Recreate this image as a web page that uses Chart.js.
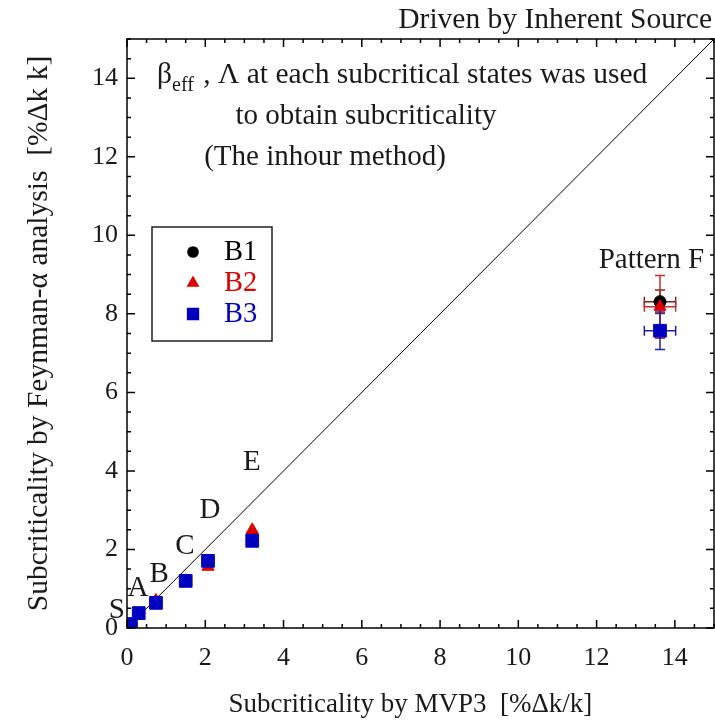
<!DOCTYPE html>
<html>
<head>
<meta charset="utf-8">
<script src="https://cdn.jsdelivr.net/npm/chart.js@4/dist/chart.umd.min.js"></script>
<style>
  body { margin: 0; background: #fff; }
</style>
</head>
<body>
<canvas id="chart" width="715" height="724"></canvas>
<script>
// subcritical states and their subcriticality [%dk/k]
const states = ["S", "A", "B", "C", "D", "E", "Pattern F"];
const mvp3 = [0.1, 0.3, 0.74, 1.5, 2.07, 3.2, 13.62];
const b1 = [0.1, 0.37, 0.66, 1.21, 1.65, 2.35, 8.31];
const b2 = [0.05, 0.36, 0.7, 1.2, 1.56, 2.5, 8.18];
const b3 = [0.1, 0.38, 0.64, 1.2, 1.71, 2.22, 7.57];
const xErr = [0, 0, 0, 0, 0, 0, 0.4];
const b1Err = [0, 0, 0, 0, 0, 0, 0.3];
const b2Err = [0, 0, 0, 0, 0, 0, 0.8];
const b3Err = [0, 0, 0, 0, 0, 0, 0.48];
// where each state name sits (data units)
const labelX = [-0.26, 0.28, 0.82, 1.48, 2.12, 3.19, 13.4];
const labelY = [0.46, 1.02, 1.36, 2.07, 2.99, 4.22, 9.36];
// y = x reference line
const lineX = [0, 15];
const lineY = [0, 15];
const tickVals = [0, 2, 4, 6, 8, 10, 12, 14];

const serif = "'Liberation Serif', 'DejaVu Serif', serif";
const ink = "#1a1a1a";

const pts = ys => mvp3.map((x, i) => ({ x, y: ys[i] }));

const series = [
  { label: "B1", ys: b1, err: b1Err, color: "#000000", bar: "#802020", style: "circle", r: 6 },
  { label: "B2", ys: b2, err: b2Err, color: "#e00000", bar: "#c03030", style: "triangle", r: 7 },
  { label: "B3", ys: b3, err: b3Err, color: "#0000c0", bar: "#2020a0", style: "rect", r: 9 }
];

const datasets = series.map((s, i) => ({
  type: "scatter",
  label: s.label,
  data: pts(s.ys),
  pointStyle: s.style,
  pointRadius: s.r,
  pointHoverRadius: s.r,
  backgroundColor: s.color,
  borderColor: s.color,
  borderWidth: 1,
  order: 3 - i
}));

datasets.push({
  type: "line",
  label: "y=x",
  data: lineX.map((x, i) => ({ x, y: lineY[i] })),
  borderColor: "#000",
  borderWidth: 1,
  pointRadius: 0,
  order: 10
});

const extras = {
  id: "extras",
  beforeDatasetsDraw(chart) {
    const { ctx, scales: { x, y } } = chart;
    ctx.save();
    ctx.lineWidth = 1.5;
    series.forEach(s => {
      ctx.strokeStyle = s.bar;
      mvp3.forEach((mx, i) => {
        const px = x.getPixelForValue(mx), py = y.getPixelForValue(s.ys[i]);
        const ex = xErr[i], ey = s.err[i];
        ctx.beginPath();
        if (ey > 0) {
          const t = y.getPixelForValue(s.ys[i] + ey), b = y.getPixelForValue(s.ys[i] - ey);
          ctx.moveTo(px, t); ctx.lineTo(px, b);
          ctx.moveTo(px - 5, t); ctx.lineTo(px + 5, t);
          ctx.moveTo(px - 5, b); ctx.lineTo(px + 5, b);
        }
        if (ex > 0) {
          const l = x.getPixelForValue(mx - ex), r = x.getPixelForValue(mx + ex);
          ctx.moveTo(l, py); ctx.lineTo(r, py);
          ctx.moveTo(l, py - 5); ctx.lineTo(l, py + 5);
          ctx.moveTo(r, py - 5); ctx.lineTo(r, py + 5);
        }
        ctx.stroke();
      });
    });
    ctx.restore();
  },
  afterDraw(chart) {
    const { ctx, chartArea: a, scales: { x, y } } = chart;
    ctx.save();
    // frame + inward ticks
    ctx.strokeStyle = "#000";
    ctx.lineWidth = 1.5;
    ctx.strokeRect(a.left, a.top, a.right - a.left, a.bottom - a.top);
    ctx.beginPath();
    for (let v = 0; v <= 15; v += 0.5) {
      const len = v % 2 === 0 ? 8 : 4;
      const px = x.getPixelForValue(v), py = y.getPixelForValue(v);
      ctx.moveTo(px, a.bottom); ctx.lineTo(px, a.bottom - len);
      ctx.moveTo(px, a.top); ctx.lineTo(px, a.top + len);
      ctx.moveTo(a.left, py); ctx.lineTo(a.left + len, py);
      ctx.moveTo(a.right, py); ctx.lineTo(a.right - len, py);
    }
    ctx.stroke();

    // state names
    ctx.fillStyle = ink;
    ctx.font = "29px " + serif;
    ctx.textAlign = "center";
    ctx.textBaseline = "middle";
    states.forEach((s, i) => {
      ctx.fillText(s, x.getPixelForValue(labelX[i]), y.getPixelForValue(labelY[i]));
    });

    // title, top right
    ctx.textAlign = "right";
    ctx.textBaseline = "alphabetic";
    ctx.font = "29.5px " + serif;
    ctx.fillText("Driven by Inherent Source", 712, 28);

    // note
    ctx.font = "29.5px " + serif;
    ctx.textAlign = "left";
    let cx = 157;
    ctx.fillText("\u03B2", cx, 83);
    cx += ctx.measureText("\u03B2").width;
    ctx.font = "20px " + serif;
    ctx.fillText("eff", cx, 91);
    cx += ctx.measureText("eff").width + 2;
    ctx.font = "29.5px " + serif;
    ctx.fillText(" , \u039B at each subcritical states was used", cx, 83);
    ctx.font = "29px " + serif;
    ctx.textAlign = "center";
    ctx.fillText("to obtain subcriticality", 366, 124);
    ctx.fillText("(The inhour method)", 325, 165);

    // legend box
    ctx.lineWidth = 1.5;
    ctx.strokeStyle = "#222";
    ctx.strokeRect(152, 227, 120, 114);
    ctx.font = "28.5px " + serif;
    ctx.textAlign = "left";
    ctx.textBaseline = "middle";
    series.forEach((s, i) => {
      const ly = 252 + i * 31;
      ctx.fillStyle = s.color;
      ctx.strokeStyle = s.color;
      Chart.helpers.drawPoint(ctx, { pointStyle: s.style, radius: s.r * 0.85, rotation: 0, borderWidth: 1 }, 193, ly);
      ctx.fillText(s.label, 224, ly + 1);
    });
    ctx.restore();
  }
};

const tickFont = { family: serif, size: 26 };

new Chart(document.getElementById("chart"), {
  data: { datasets },
  options: {
    responsive: false,
    animation: false,
    layout: { autoPadding: false, padding: { top: 39, right: 1, left: 0, bottom: 0 } },
    plugins: { legend: { display: false }, tooltip: { enabled: false } },
    scales: {
      x: {
        type: "linear",
        min: 0,
        max: 15,
        afterBuildTicks: s => { s.ticks = tickVals.map(v => ({ value: v })); },
        afterFit: s => { s.height = 96; s.paddingLeft = 0; s.paddingRight = 0; },
        grid: { display: false, drawTicks: false },
        border: { display: false },
        ticks: { font: tickFont, color: ink, padding: 15, maxRotation: 0 },
        title: {
          display: true,
          text: "Subcriticality by MVP3  [%\u0394k/k]   ",
          font: { family: serif, size: 27 },
          color: ink,
          padding: { top: 0, bottom: 3 }
        }
      },
      y: {
        type: "linear",
        min: 0,
        max: 15,
        afterBuildTicks: s => { s.ticks = tickVals.map(v => ({ value: v })); },
        afterFit: s => { s.width = 127; s.paddingTop = 0; s.paddingBottom = 0; },
        grid: { display: false, drawTicks: false },
        border: { display: false },
        ticks: { font: tickFont, color: ink, padding: 9 },
        title: {
          display: true,
          text: "Subcriticality by Feynman-\u03B1 analysis  [%\u0394k k]",
          font: { family: serif, size: 29.5 },
          color: ink,
          padding: { top: 22, bottom: 0 }
        }
      }
    }
  },
  plugins: [extras]
});
</script>
</body>
</html>
